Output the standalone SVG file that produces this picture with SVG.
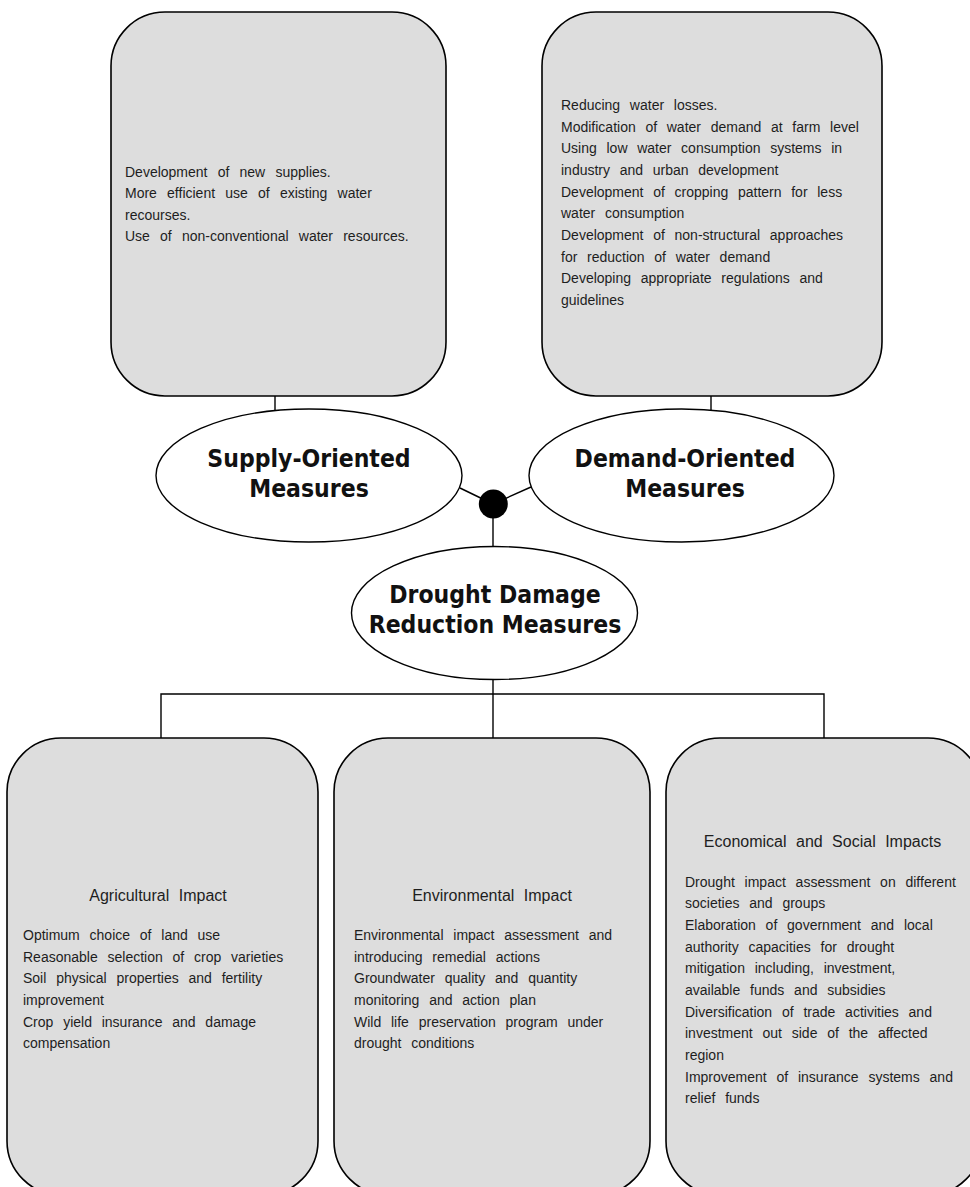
<svg xmlns="http://www.w3.org/2000/svg" width="970" height="1187" viewBox="0 0 970 1187">
<style>
.box{fill:#dddddd;stroke:#000;stroke-width:1.6}
.ell{fill:#fff;stroke:#000;stroke-width:1.4}
.con{stroke:#000;stroke-width:1.4;fill:none}
.t{font-family:"Liberation Sans",Arial,sans-serif;font-size:14px;fill:#1e1e1e}
.tt{word-spacing:6.3px}
.tb{word-spacing:5.9px}
.h{font-family:"Liberation Sans",Arial,sans-serif;font-size:16px;fill:#1e1e1e;word-spacing:5px;text-anchor:middle}
.lbl{font-family:"DejaVu Sans Condensed","DejaVu Sans",sans-serif;font-stretch:condensed;font-weight:bold;font-size:24.5px;fill:#111;text-anchor:middle}
</style>
<rect width="970" height="1187" fill="#fff"/>
<g id="connectors">
<line class="con" x1="275" y1="396" x2="275" y2="411"/>
<line class="con" x1="711" y1="396" x2="711" y2="411"/>
<line class="con" x1="460" y1="488" x2="493" y2="504"/>
<line class="con" x1="531" y1="487" x2="493" y2="504"/>
<line class="con" x1="493" y1="504" x2="493" y2="547"/>
<line class="con" x1="493" y1="679" x2="493" y2="694"/>
<polyline class="con" points="161,738 161,694 824,694 824,738"/>
<line class="con" x1="493" y1="694" x2="493" y2="738"/>
<circle cx="493.3" cy="504" r="14.5" fill="#000"/>
</g>
<g id="supply-box">
<rect class="box" x="111" y="12" width="335" height="384" rx="54" ry="54"/>
<text class="t tt" x="125"><tspan x="125" y="176.7">Development of new supplies.</tspan><tspan x="125" y="198.2">More efficient use of existing water</tspan><tspan x="125" y="219.5">recourses.</tspan><tspan x="125" y="240.8">Use of non-conventional water resources.</tspan></text>
</g>
<g id="demand-box">
<rect class="box" x="542" y="12" width="340" height="384" rx="54" ry="54"/>
<text class="t" style="word-spacing:5.8px"><tspan x="561" y="110">Reducing water losses.</tspan><tspan x="561" y="131.7">Modification of water demand at farm level</tspan><tspan x="561" y="153.3">Using low water consumption systems in</tspan><tspan x="561" y="175">industry and urban development</tspan><tspan x="561" y="196.7">Development of cropping pattern for less</tspan><tspan x="561" y="218.3">water consumption</tspan><tspan x="561" y="240">Development of non-structural approaches</tspan><tspan x="561" y="261.7">for reduction of water demand</tspan><tspan x="561" y="283.3">Developing appropriate regulations and</tspan><tspan x="561" y="305">guidelines</tspan></text>
</g>
<g id="supply-node">
<ellipse class="ell" cx="309" cy="475.5" rx="153" ry="66.5"/>
<text class="lbl" x="309" y="467">Supply-Oriented</text>
<text class="lbl" x="309" y="497">Measures</text>
</g>
<g id="demand-node">
<ellipse class="ell" cx="681.5" cy="475.5" rx="152.5" ry="66.5"/>
<text class="lbl" x="685" y="467">Demand-Oriented</text>
<text class="lbl" x="685" y="497">Measures</text>
</g>
<g id="drought-node">
<ellipse class="ell" cx="494.5" cy="613" rx="143" ry="66.5"/>
<text class="lbl" x="495" y="603">Drought Damage</text>
<text class="lbl" x="495" y="633">Reduction Measures</text>
</g>
<g id="agricultural-box">
<rect class="box" x="7" y="738" width="311" height="457" rx="54" ry="54"/>
<text class="h" x="158" y="900.7">Agricultural Impact</text>
<text class="t tb"><tspan x="23" y="940">Optimum choice of land use</tspan><tspan x="23" y="961.7">Reasonable selection of crop varieties</tspan><tspan x="23" y="983.3">Soil physical properties and fertility</tspan><tspan x="23" y="1005">improvement</tspan><tspan x="23" y="1026.7">Crop yield insurance and damage</tspan><tspan x="23" y="1048.3">compensation</tspan></text>
</g>
<g id="environmental-box">
<rect class="box" x="334" y="738" width="316" height="457" rx="54" ry="54"/>
<text class="h" x="492" y="900.7">Environmental Impact</text>
<text class="t tb"><tspan x="354" y="940">Environmental impact assessment and</tspan><tspan x="354" y="961.7">introducing remedial actions</tspan><tspan x="354" y="983.3">Groundwater quality and quantity</tspan><tspan x="354" y="1005">monitoring and action plan</tspan><tspan x="354" y="1026.7">Wild life preservation program under</tspan><tspan x="354" y="1048.3">drought conditions</tspan></text>
</g>
<g id="economic-box">
<rect class="box" x="666" y="738" width="316" height="457" rx="54" ry="54"/>
<text class="h" x="822.5" y="846.7">Economical and Social Impacts</text>
<text class="t tb"><tspan x="685" y="886.7">Drought impact assessment on different</tspan><tspan x="685" y="908.3">societies and groups</tspan><tspan x="685" y="930">Elaboration of government and local</tspan><tspan x="685" y="951.7">authority capacities for drought</tspan><tspan x="685" y="973.3">mitigation including, investment,</tspan><tspan x="685" y="995">available funds and subsidies</tspan><tspan x="685" y="1016.7">Diversification of trade activities and</tspan><tspan x="685" y="1038.3">investment out side of the affected</tspan><tspan x="685" y="1060">region</tspan><tspan x="685" y="1081.7">Improvement of insurance systems and</tspan><tspan x="685" y="1103.3">relief funds</tspan></text>
</g>
</svg>
